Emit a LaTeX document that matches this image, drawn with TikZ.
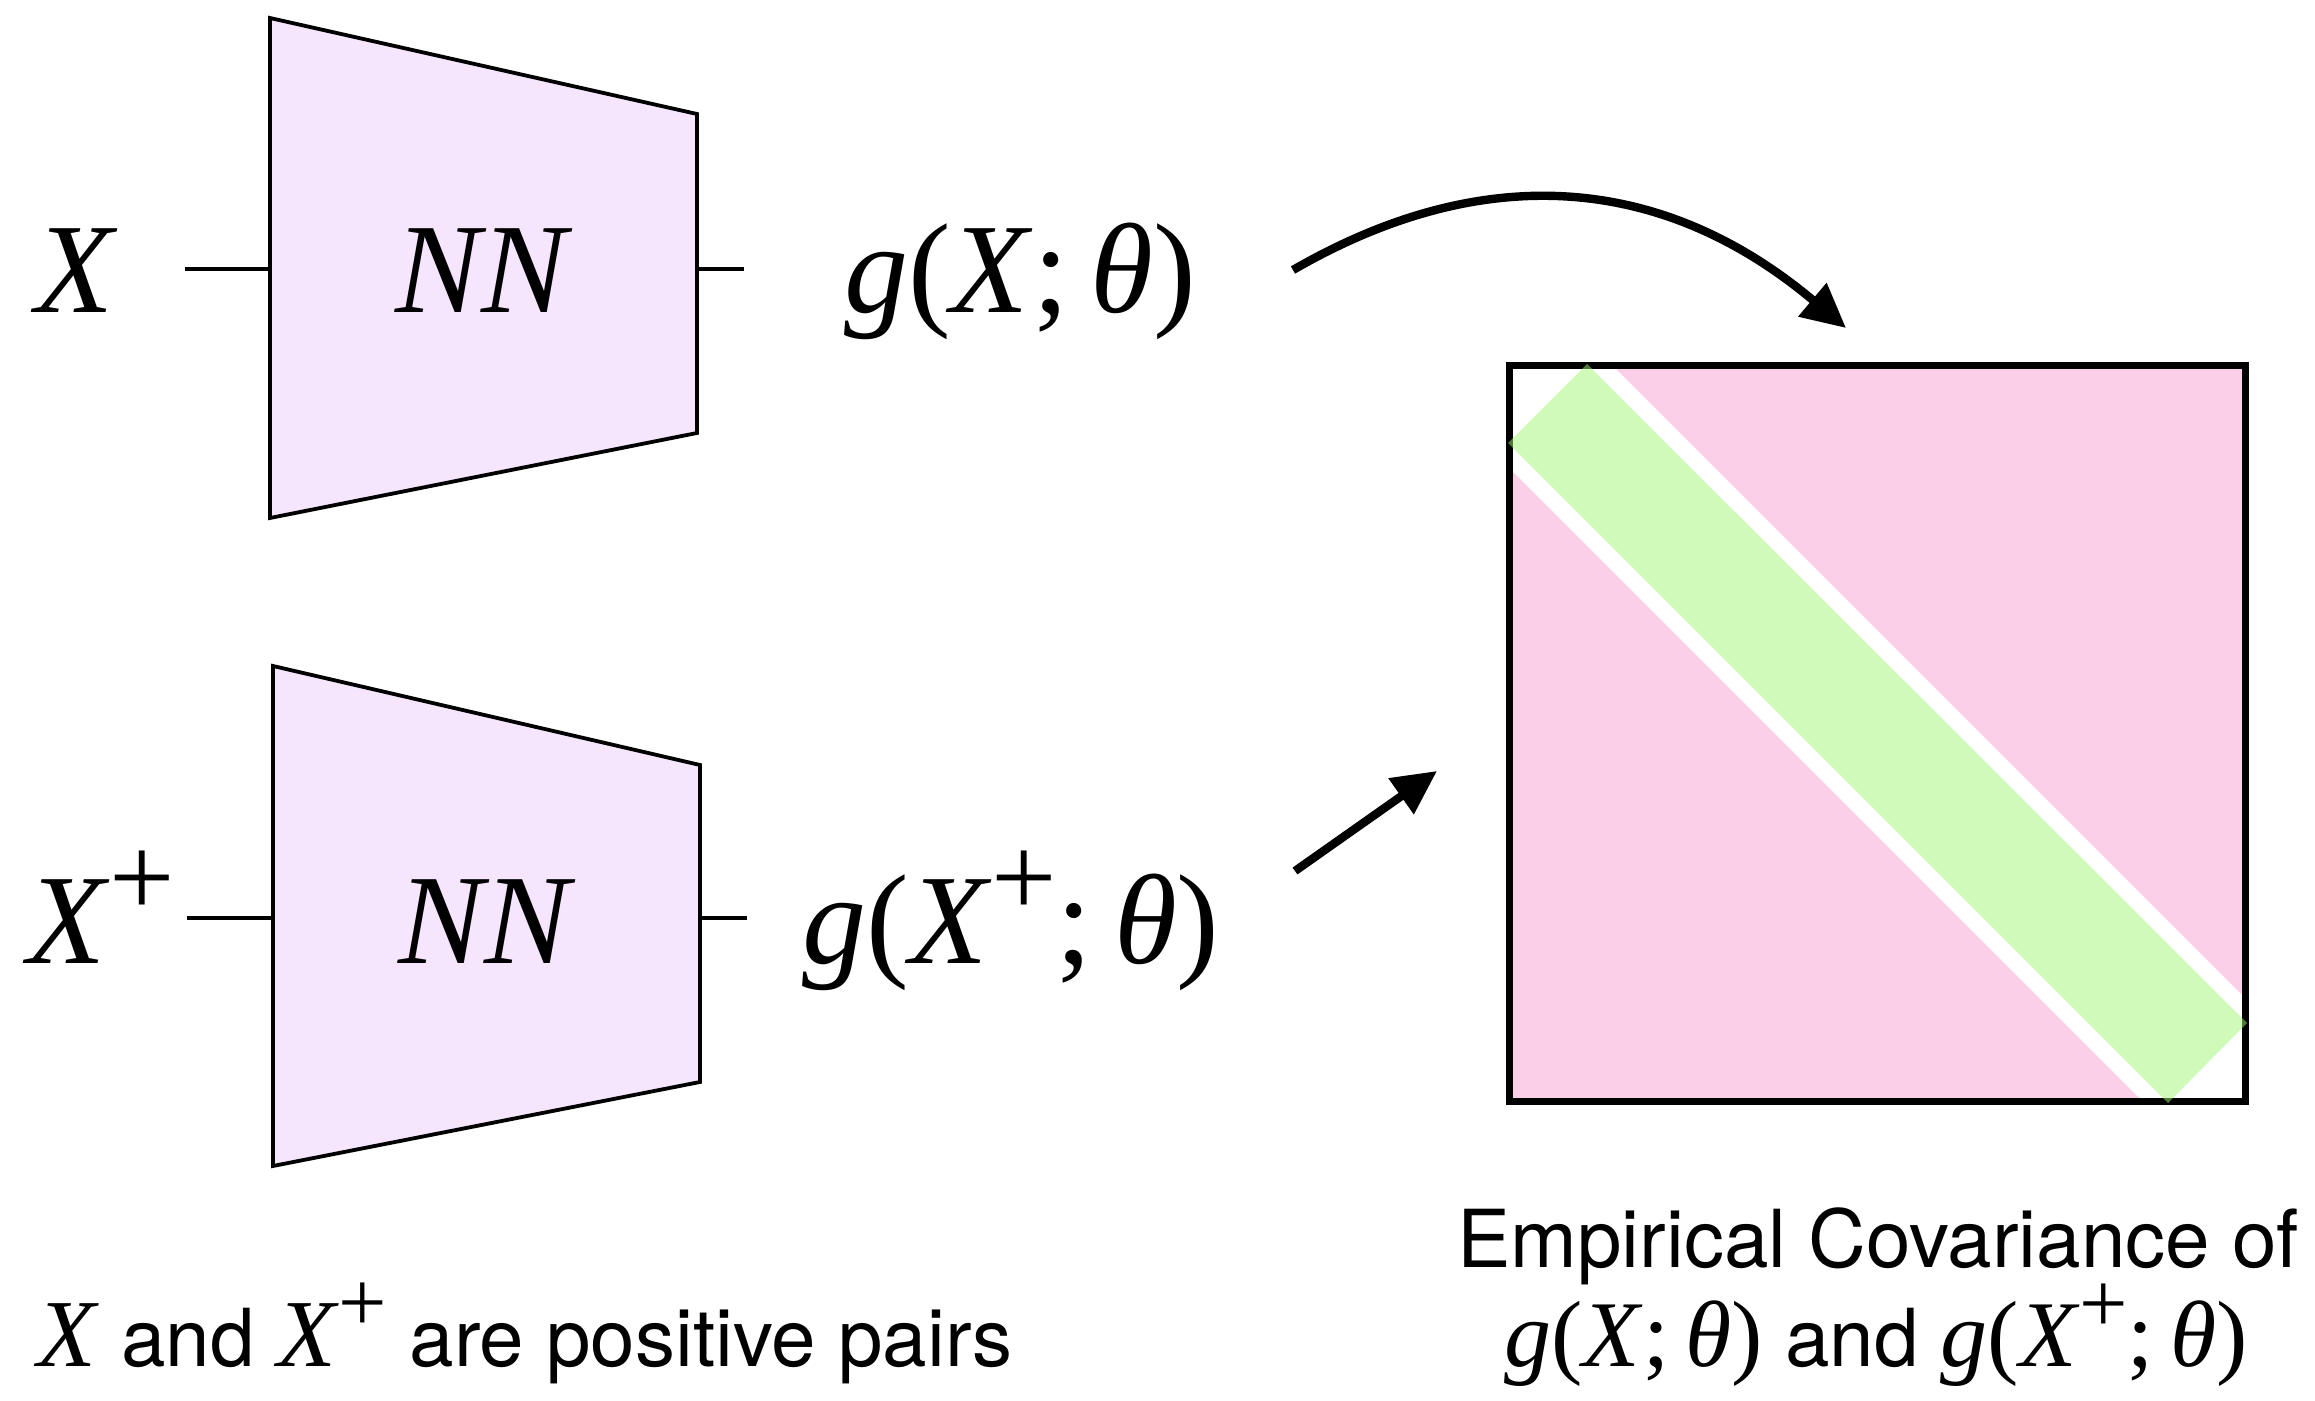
\documentclass[tikz,border=0pt]{standalone}
\usepackage{fontspec}
\setmainfont{TeX Gyre Heros}
\newfontfamily\tms{Liberation Serif}
\usetikzlibrary{arrows.meta}
\definecolor{trapfill}{RGB}{245,229,253}
\definecolor{pinkA}{RGB}{249,160,209}
\definecolor{greenA}{RGB}{160,245,115}
\newcommand{\mv}[1]{{\tms\itshape #1\/}}
\newcommand{\Xp}[1]{\mv{X}\raisebox{0.36em}{\fontsize{#1}{#1}\selectfont\tms +}}
\newcommand{\gX}{{\tms\mv{g}(\mv{X};\kern0.17em\mv{θ})}}
\newcommand{\gXp}[1]{{\tms\mv{g}(\Xp{#1};\kern0.17em\mv{θ})}}
\begin{document}
\begin{tikzpicture}[x=0.5pt,y=-0.5pt,
  lab/.style={inner sep=0pt,anchor=base,font=\fontsize{64}{64}\selectfont},
  trap/.style={draw=black,line width=1.9pt,fill=trapfill,line join=miter},
  wire/.style={line width=1.8pt},
  arr/.style={line width=4.2pt,-{Triangle[length=22pt,width=21pt]}},
  frame/.style={line width=3.5pt}]
\useasboundingbox (0,0) rectangle (2315,1401);

% encoders
\draw[trap] (270,18) -- (697,114) -- (697,433) -- (270,518) -- cycle;
\draw[trap] (273,666) -- (700,765) -- (700,1082) -- (273,1166) -- cycle;

\coordinate (i1a) at (185,269); \coordinate (i1b) at (270,269);
\coordinate (o1a) at (697,269); \coordinate (o1b) at (744,269);
\coordinate (i2a) at (187,918); \coordinate (i2b) at (273,918);
\coordinate (o2a) at (700,918); \coordinate (o2b) at (747,918);
\draw[wire] (i1a) -- (i1b);
\draw[wire] (o1a) -- (o1b);
\draw[wire] (i2a) -- (i2b);
\draw[wire] (o2a) -- (o2b);

\node[lab] (x1) at (77,313) {\mv{X}};
\node[lab] (nn1) at (484,313) {\mv{NN}};
\node[lab] (g1) at (1020,313) {\gX};
\node[lab,anchor=base west] (x2) at (27,963) {\Xp{58}};
\node[lab] (nn2) at (487,963) {\mv{NN}};
\node[lab] (g2) at (1011,963) {\gXp{58}};

% matrix
\fill[pinkA,opacity=0.5] (1612.5,365.5) -- (2245.5,365.5) -- (2245.5,998.5) -- cycle;
\fill[pinkA,opacity=0.5] (1509.5,468.5) -- (1509.5,1101) -- (2142,1101) -- cycle;
\draw[frame] (1509.5,365.5) rectangle (2245.5,1101);
\fill[greenA,opacity=0.5] (1587,364) -- (1508,443) -- (2168,1103) -- (2247,1023) -- cycle;

% arrows
\coordinate (a1s) at (1293,270); \coordinate (a1e) at (1846,328);
\draw[arr] (a1s) .. controls (1492,155) and (1670,180) .. (a1e);
\coordinate (a2s) at (1295,871); \coordinate (a2e) at (1437,771);
\draw[arr] (a2s) -- (a2e);

% captions
\node[anchor=base west,inner sep=0pt,font=\fontsize{40}{40}\selectfont] (cap1) at (37,1366)
  {{\fontsize{48}{48}\selectfont\mv{X}} and {\fontsize{48}{48}\selectfont\Xp{43}} are positive pairs};
\node[anchor=base,inner sep=0pt,font=\fontsize{40}{40}\selectfont] (cov1) at (1878,1267) {Empirical Covariance of};
\node[anchor=base,inner sep=0pt,font=\fontsize{40}{40}\selectfont] (cov2) at (1876,1366)
  {{\fontsize{47}{47}\selectfont\gX} and {\fontsize{47}{47}\selectfont\gXp{43}}};
\end{tikzpicture}
\end{document}
